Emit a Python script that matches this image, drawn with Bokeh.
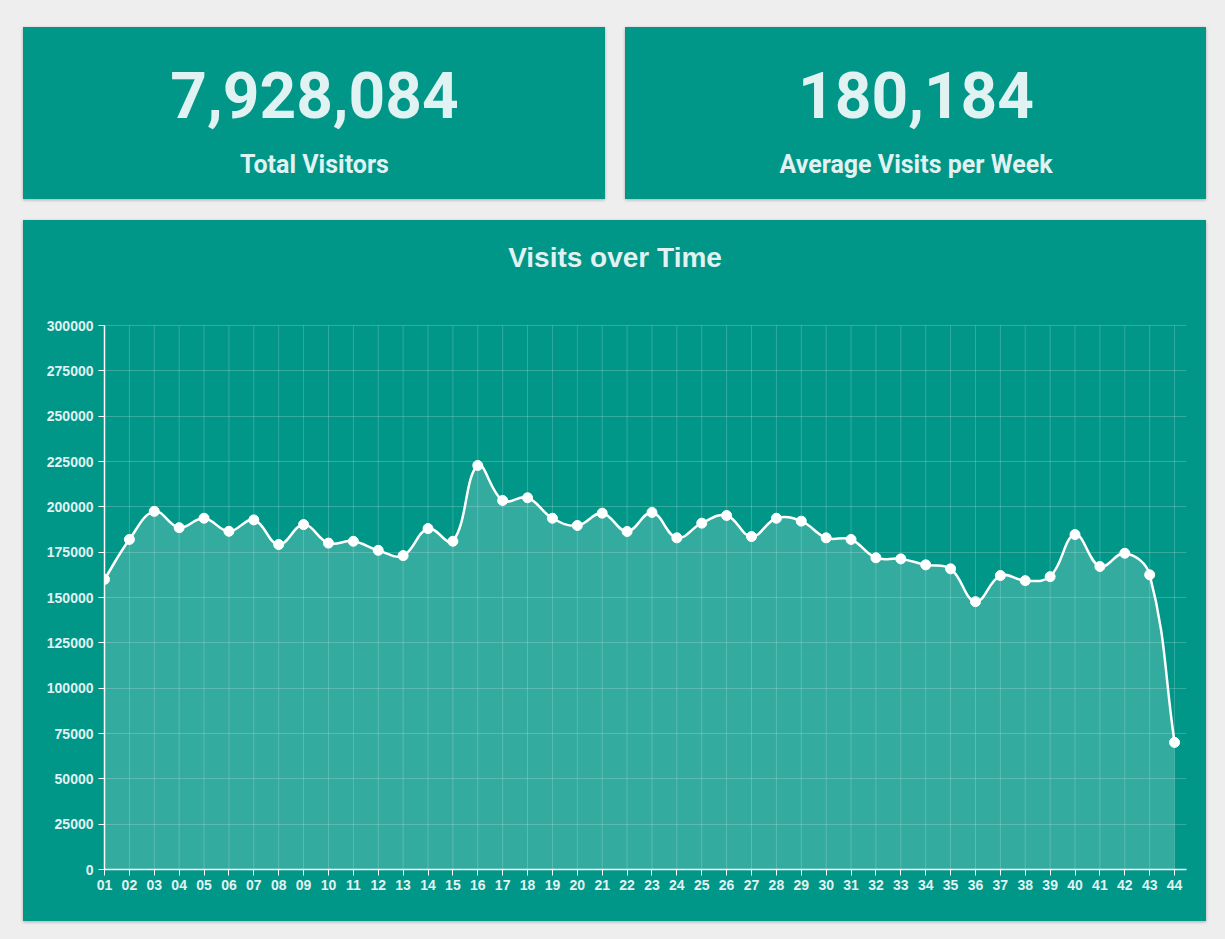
import math
from bokeh.plotting import figure
from bokeh.layouts import column, row
from bokeh.models import Range1d, FixedTicker, NumeralTickFormatter
from bokeh.core.properties import value
from bokeh.embed import file_html
from bokeh.resources import INLINE

# ---------------- data ----------------
weeks = ["01", "02", "03", "04", "05", "06", "07", "08", "09", "10",
         "11", "12", "13", "14", "15", "16", "17", "18", "19", "20",
         "21", "22", "23", "24", "25", "26", "27", "28", "29", "30",
         "31", "32", "33", "34", "35", "36", "37", "38", "39", "40",
         "41", "42", "43", "44"]
visits = [160000, 182000, 197500, 188500, 193700, 186500, 192800, 179200, 190200, 180000,
          181000, 176000, 173100, 188000, 181000, 222800, 203500, 205000, 193700, 189700,
          196500, 186400, 196900, 182900, 191000, 195200, 183600, 193700, 192100, 182900,
          182000, 171900, 171300, 168000, 165800, 147700, 162100, 159300, 161500, 184700,
          167100, 174400, 162500, 70100]
y_ticks = [0, 25000, 50000, 75000, 100000, 125000, 150000, 175000,
           200000, 225000, 250000, 275000, 300000]
total_visitors = 7928084
avg_visits_per_week = 180184
stat_labels = ["Total Visitors", "Average Visits per Week"]
chart_title = "Visits over Time"

# ---------------- style ----------------
TEAL = "#009688"
BG = "#eeeeee"
TXT = "#e0f2f1"
CARD_STYLE = {"box-shadow": "0 1px 3px rgba(0,0,0,0.28)", "background-color": TEAL}


def stat_card(number_text, label_text, width, left_margin):
    p = figure(width=width, height=172, x_range=Range1d(0, 1), y_range=Range1d(0, 1),
               x_axis_type=None, y_axis_type=None, output_backend="svg",
               toolbar_location=None, min_border=0,
               background_fill_color=TEAL, border_fill_color=TEAL,
               outline_line_color=None, margin=(27, 0, 0, left_margin), styles=CARD_STYLE)
    p.text(x=[0.5], y=[1 - 67 / 172], text=[number_text], text_font=value("Roboto"),
           text_font_size="64px", text_font_style="bold", text_align="center",
           text_baseline="alphabetic", text_color=TXT)
    p.text(x=[0.5], y=[1 - 137 / 172], text=[label_text], text_font=value("Roboto"),
           text_font_size="25px", text_font_style="bold", text_align="center",
           text_baseline="alphabetic", text_color=TXT)
    return p


card1 = stat_card(f"{total_visitors:,}", stat_labels[0], 582, 23)
card2 = stat_card(f"{avg_visits_per_week:,}", stat_labels[1], 581, 20)

# ---------------- chart card ----------------
CARD_W, CARD_H = 1183, 701
BL, BR, BB = 81, 20, 52
TOP_GAP = 105            # pixels from card top to the 300000 line
n = len(visits)
xs = list(range(1, n + 1))
X_END = 44.48
Y_MAX = 300000
frame_h = CARD_H - BB
Y_TOP = Y_MAX * frame_h / (frame_h - TOP_GAP)   # frame reaches the card top (title area)

p = figure(width=CARD_W, height=CARD_H, x_range=Range1d(1, X_END),
           y_range=Range1d(0, Y_TOP), output_backend="svg", toolbar_location=None,
           min_border_left=BL, min_border_right=BR, min_border_top=0, min_border_bottom=BB,
           background_fill_color=TEAL, border_fill_color=TEAL, outline_line_color=None,
           margin=(21, 0, 0, 23), styles=CARD_STYLE)

# chart title, centred on the card
frame_w = CARD_W - BL - BR
SX = frame_w / (X_END - 1)
p.text(x=[1 + (CARD_W / 2 - BL) / SX], y=[Y_TOP * (1 - 36.5 / frame_h)], text=[chart_title],
       text_font=value("Liberation Sans"), text_font_size="28px", text_font_style="bold",
       text_align="center", text_baseline="alphabetic", text_color=TXT)

p.xaxis.ticker = FixedTicker(ticks=xs)
p.xaxis.major_label_overrides = {x: w for x, w in zip(xs, weeks)}
p.yaxis.ticker = FixedTicker(ticks=y_ticks)
p.yaxis.formatter = NumeralTickFormatter(format="0")
p.yaxis.bounds = (0, Y_MAX)
p.xgrid.visible = False
p.ygrid.ticker = FixedTicker(ticks=y_ticks)
p.ygrid.grid_line_color = "white"
p.ygrid.grid_line_alpha = 0.2
# vertical grid lines limited to the value range
p.segment(x0=xs, y0=[0] * n, x1=xs, y1=[Y_MAX] * n, line_color="white",
          line_alpha=0.2, line_width=1, level="underlay")
for ax in (p.xaxis, p.yaxis):
    ax.axis_line_color = "white"
    ax.axis_line_width = 1.5
    ax.major_tick_line_color = "white"
    ax.major_tick_in = 0
    ax.major_tick_out = 6
    ax.minor_tick_line_color = None
    ax.major_label_text_font = "Liberation Sans"
    ax.major_label_text_font_size = "14px"
    ax.major_label_text_font_style = "bold"
    ax.major_label_text_color = TXT
p.yaxis.major_label_standoff = 5
p.xaxis.major_label_standoff = 4

# Chart.js style spline (tension 0.4), control points in pixel-proportional space
SY = (frame_h - TOP_GAP) / Y_MAX
T = 0.4
cprev, cnext = [], []
for i in range(n):
    a, b = max(i - 1, 0), min(i + 1, n - 1)
    d01 = math.hypot((xs[i] - xs[a]) * SX, (visits[i] - visits[a]) * SY)
    d12 = math.hypot((xs[b] - xs[i]) * SX, (visits[b] - visits[i]) * SY)
    s = d01 + d12
    fa = T * (d01 / s if s else 0)
    fb = T * (d12 / s if s else 0)
    dx, dy = xs[b] - xs[a], visits[b] - visits[a]
    clamp_x = lambda v: min(max(v, 1), X_END)
    clamp_y = lambda v: min(max(v, 0), Y_MAX)
    cprev.append((clamp_x(xs[i] - fa * dx), clamp_y(visits[i] - fa * dy)))
    cnext.append((clamp_x(xs[i] + fb * dx), clamp_y(visits[i] + fb * dy)))

# sampled curve for the area fill
cx, cy = [], []
STEPS = 20
for i in range(n - 1):
    p0 = (xs[i], visits[i]); p1 = cnext[i]; p2 = cprev[i + 1]; p3 = (xs[i + 1], visits[i + 1])
    for k in range(STEPS + (1 if i == n - 2 else 0)):
        t = k / STEPS
        u = 1 - t
        cx.append(u**3 * p0[0] + 3 * u * u * t * p1[0] + 3 * u * t * t * p2[0] + t**3 * p3[0])
        cy.append(u**3 * p0[1] + 3 * u * u * t * p1[1] + 3 * u * t * t * p2[1] + t**3 * p3[1])

p.varea(x=cx, y1=[0] * len(cx), y2=cy, fill_color="white", fill_alpha=0.2)
p.bezier(x0=xs[:-1], y0=visits[:-1], x1=xs[1:], y1=visits[1:],
         cx0=[c[0] for c in cnext[:-1]], cy0=[c[1] for c in cnext[:-1]],
         cx1=[c[0] for c in cprev[1:]], cy1=[c[1] for c in cprev[1:]],
         line_color="white", line_width=2.5)
p.scatter(x=xs, y=visits, size=10, fill_color="white", line_color="white")

layout = column(row(card1, card2), p, width=1225, height=939,
                styles={"background-color": BG})

open("out.html", "w").write(file_html(layout, INLINE))
